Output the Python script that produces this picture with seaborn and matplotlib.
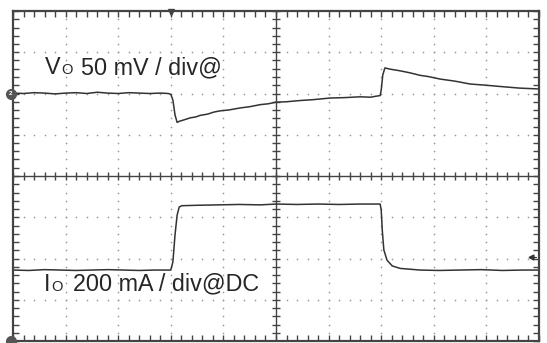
import numpy as np
import pandas as pd
import matplotlib
matplotlib.use("Agg")
import matplotlib.pyplot as plt
import seaborn as sns

# scope traces, in screen divisions (x: 0-10, y: 0-8)
vo_t = [0.0, 0.2, 0.4, 0.6, 0.8, 1.0, 1.2, 1.4, 1.6, 1.8, 2.0, 2.2, 2.4, 2.6, 2.8, 2.95,
        3.0, 3.04, 3.08, 3.12, 3.17, 3.25, 3.37, 3.47, 3.56, 3.7, 3.82, 3.94, 4.1, 4.32,
        4.5, 4.7, 4.85, 5.0, 5.2, 5.46, 5.7, 6.03, 6.3, 6.6, 6.8, 6.88, 6.98, 7.0, 7.03,
        7.07, 7.17, 7.36, 7.55, 7.74, 7.9, 8.12, 8.4, 8.69, 9.0, 9.26, 9.45, 9.64, 9.82, 10.0]
vo_v = [6.01, 6.00, 6.02, 6.01, 5.99, 6.01, 6.02, 6.00, 6.03, 6.01, 6.00, 6.02, 6.01, 6.00, 6.01, 6.00,
        5.98, 5.84, 5.48, 5.30, 5.33, 5.36, 5.41, 5.43, 5.47, 5.50, 5.55, 5.58, 5.60, 5.65,
        5.68, 5.73, 5.75, 5.79, 5.80, 5.83, 5.85, 5.89, 5.90, 5.92, 5.91, 5.93, 5.95, 6.08, 6.45,
        6.62, 6.59, 6.55, 6.50, 6.44, 6.41, 6.35, 6.30, 6.23, 6.20, 6.17, 6.15, 6.13, 6.12, 6.11]

io_t = [0.0, 0.3, 0.6, 0.9, 1.2, 1.5, 1.8, 2.1, 2.4, 2.7, 3.0, 3.04, 3.08, 3.12, 3.16, 3.21,
        3.5, 3.9, 4.3, 4.7, 5.0, 5.4, 5.8, 6.2, 6.6, 6.98, 7.0, 7.02, 7.05, 7.11, 7.21, 7.36,
        7.74, 8.1, 8.5, 8.9, 9.3, 9.7, 10.0]
io_v = [1.72, 1.71, 1.73, 1.72, 1.71, 1.72, 1.73, 1.72, 1.71, 1.72, 1.72, 1.92, 2.57, 3.05, 3.25, 3.28,
        3.29, 3.30, 3.31, 3.30, 3.32, 3.31, 3.32, 3.31, 3.32, 3.32, 3.18, 2.69, 2.21, 1.96, 1.82, 1.76,
        1.72, 1.71, 1.72, 1.73, 1.71, 1.72, 1.72]

vo = pd.DataFrame({"t": vo_t, "v": vo_v})
io = pd.DataFrame({"t": io_t, "v": io_v})

sns.set_style("white")
plt.rcParams["font.family"] = ["Liberation Sans", "DejaVu Sans"]

fig = plt.figure(figsize=(5.47, 3.43), dpi=100)
ax = fig.add_axes([13 / 547, 2 / 343, 526 / 547, 330 / 343])
ax.set_xlim(0, 10)
ax.set_ylim(0, 8)

# dotted graticule
minor = np.arange(0, 10.001, 0.2)
minor_y = np.arange(0, 8.001, 0.2)
for gx in range(1, 10):
    if gx != 5:
        ax.plot([gx] * len(minor_y), minor_y, ls="none", marker="o", ms=1.2, color="#999999", mew=0)
for gy in range(1, 8):
    if gy != 4:
        ax.plot(minor, [gy] * len(minor), ls="none", marker="o", ms=1.2, color="#999999", mew=0)

# centre axes with ticks
ax.axhline(4, color="#444444", lw=1)
ax.axvline(5, color="#444444", lw=1)
ax.plot(minor, [4] * len(minor), ls="none", marker="|", ms=6, color="#444444", mew=1)
ax.plot([5] * len(minor_y), minor_y, ls="none", marker="_", ms=6, color="#444444", mew=1)

# border ticks
ax.set_xticks(minor)
ax.set_yticks(minor_y)
ax.tick_params(direction="in", length=4, width=1, color="#444444", top=True, right=True,
               bottom=True, left=True, labelbottom=False, labelleft=False)
for s in ax.spines.values():
    s.set_color("#444444")
    s.set_linewidth(1.6)

# traces
sns.lineplot(data=vo, x="t", y="v", ax=ax, color="#333333", lw=1.1, estimator=None, sort=False)
sns.lineplot(data=io, x="t", y="v", ax=ax, color="#333333", lw=1.1, estimator=None, sort=False)
ax.set_xlabel("")
ax.set_ylabel("")

# labels
ax.text(0.61, 6.47, "V", fontsize=16.8, va="baseline")
ax.text(0.92, 6.47, "O", fontsize=10.5, va="baseline")
ax.text(1.29, 6.47, "50 mV / div@", fontsize=16.8, va="baseline")
ax.text(0.58, 1.22, "I", fontsize=16.8, va="baseline")
ax.text(0.73, 1.22, "O", fontsize=10.5, va="baseline")
ax.text(1.14, 1.22, "200 mA / div@DC", fontsize=16.8, va="baseline")

# scope markers
ax.plot(-0.04, 6.0, marker="o", ms=7, color="#555555", clip_on=False, zorder=5)
ax.text(-0.04, 6.0, "2", fontsize=4.5, color="white", ha="center", va="center",
        fontweight="bold", clip_on=False, zorder=6)
ax.plot(-0.04, 0.0, marker="o", ms=7, color="#555555", clip_on=False, zorder=5)
ax.plot(3.0, 7.97, marker="v", ms=5, color="#444444", clip_on=False, zorder=5)
ax.plot(9.85, 2.04, marker="<", ms=3.5, color="#333333", zorder=5)
ax.plot([9.85, 9.95], [2.04, 2.04], color="#333333", lw=0.8)

fig.savefig("out.png", dpi=100)
